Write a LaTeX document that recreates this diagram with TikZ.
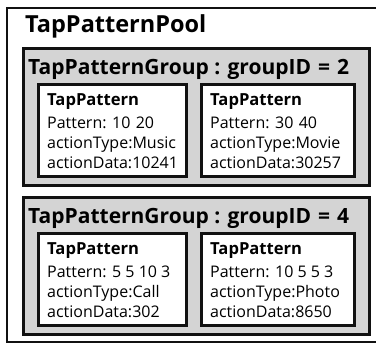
\documentclass[tikz,border=0pt]{standalone}
\usepackage{fontspec}
\setmainfont{Open Sans}
\usetikzlibrary{calc}
\definecolor{groupgray}{HTML}{D4D4D4}
\definecolor{inkline}{HTML}{111111}

\tikzset{
  poolbox/.style={draw=inkline, line width=2pt, fill=white, inner sep=0pt, anchor=north west},
  groupbox/.style={draw=inkline, line width=2.6pt, fill=groupgray, inner sep=0pt, anchor=north west,
    minimum width=346pt, minimum height=137pt},
  patbox/.style={draw=inkline, line width=2.6pt, fill=white, inner sep=0pt, anchor=north west,
    minimum height=92pt},
  txt/.style={anchor=base west, inner sep=0pt, text=black},
  pooltitle/.style={txt, font=\fontsize{23.5}{28}\selectfont\bfseries},
  grouptitle/.style={txt, font=\fontsize{21}{25}\selectfont\bfseries},
  pathead/.style={txt, font=\fontsize{16.6}{20}\selectfont\bfseries},
  patline/.style={txt, font=\fontsize{16}{20}\selectfont},
}

% one TapPattern box: #1 name, #2/#3 top-left corner, #4 width, #5 pattern, #6 type, #7 data
\newcommand\tappatbox[7]{%
  \node[patbox, minimum width=#4pt] (#1) at (#2,#3) {};
  \node[pathead] (#1-head) at ($(#1.north west)+(10,22)$) {TapPattern};
  \node[patline] (#1-pat)  at ($(#1.north west)+(10,45)$) {Pattern: #5};
  \node[patline] (#1-type) at ($(#1.north west)+(10,65)$) {actionType:#6};
  \node[patline] (#1-data) at ($(#1.north west)+(10,85)$) {actionData:#7};
}

\begin{document}
\begin{tikzpicture}[x=1pt, y=-1pt]
  \useasboundingbox (0,0) rectangle (376,343);
  \clip (0,0) rectangle (376,343);

  % the pool
  \node[poolbox, minimum width=380pt, minimum height=334pt] (pool) at (6,7) {};
  \node[pooltitle] (pool-title) at (25,32) {TapPatternPool};

  % group 2
  \node[groupbox] (g2) at (22,47) {};
  \node[grouptitle] (g2-title) at (28,74) {TapPatternGroup : groupID\,\,=\,\,2};
  \tappatbox{p1}{37}{83}{148}{10\,\,20}{Music}{10241}
  \tappatbox{p2}{200}{83}{153}{30\,\,40}{Movie}{30257}

  % group 4
  \node[groupbox] (g4) at (22,196) {};
  \node[grouptitle] (g4-title) at (28,223) {TapPatternGroup : groupID\,\,=\,\,4};
  \tappatbox{p3}{37}{232}{148}{5 5 10 3}{Call}{302}
  \tappatbox{p4}{200}{232}{153}{10 5 5 3}{Photo}{8650}
\end{tikzpicture}
\end{document}
